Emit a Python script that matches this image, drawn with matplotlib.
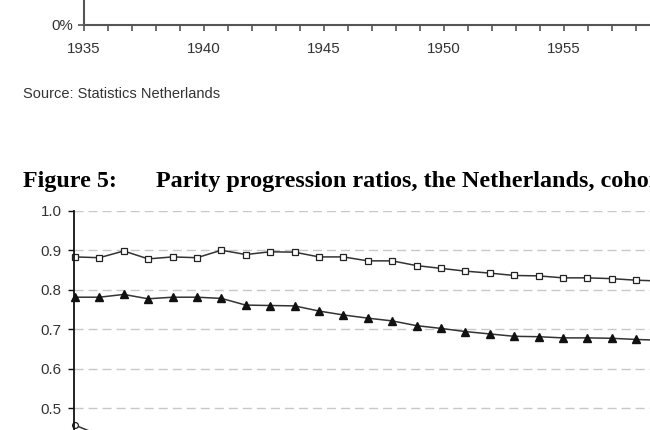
import matplotlib
matplotlib.use("Agg")
import matplotlib.pyplot as plt
from matplotlib.ticker import MultipleLocator, FixedLocator, FormatStrFormatter

# Figure 5 data: parity progression ratios by birth cohort
cohorts = list(range(1935, 1960))
ppr_squares = [0.883, 0.881, 0.898, 0.878, 0.883, 0.881, 0.900, 0.889, 0.896,
               0.895, 0.883, 0.883, 0.873, 0.873, 0.861, 0.854, 0.847, 0.842,
               0.836, 0.835, 0.830, 0.830, 0.828, 0.824, 0.822]
ppr_triangles = [0.781, 0.781, 0.788, 0.777, 0.781, 0.781, 0.778, 0.761, 0.760,
                 0.759, 0.746, 0.736, 0.728, 0.721, 0.709, 0.702, 0.694, 0.688,
                 0.682, 0.681, 0.678, 0.678, 0.677, 0.674, 0.672]
circle_cohorts = [1935, 1936]
ppr_circles = [0.457, 0.432]
y_ticks = [0.5, 0.6, 0.7, 0.8, 0.9, 1.0]  # the lower ones fall below the crop

# previous figure (only its bottom axis is visible in the crop)
prev_year_ticks = [1935, 1940, 1945, 1950, 1955]
prev_y_ticks = [0]
prev_y_labels = ["0%"]

source_text = "Source: Statistics Netherlands"
fig_label = "Figure 5:"
fig_title = "Parity progression ratios, the Netherlands, cohorts"

W, H = 650, 430
plt.rcParams["lines.scale_dashes"] = False
SANS = ["Liberation Sans", "DejaVu Sans"]
SERIF = ["Liberation Serif", "DejaVu Serif"]

fig = plt.figure(figsize=(W / 100, H / 100), dpi=100)


def px_axes(left, top, right, bottom):
    # pixel box (from top-left) -> figure fraction axes
    return fig.add_axes([left / W, 1 - bottom / H, (right - left) / W, (bottom - top) / H])


# ---- tail of the previous chart ----
ax0 = px_axes(84, -300, 84 + 27 * 24.0, 25)
ax0.set_xlim(1935, 1962)
ax0.set_ylim(0, 1)
for s in ("top", "right"):
    ax0.spines[s].set_visible(False)
for s in ("left", "bottom"):
    ax0.spines[s].set_color("#555555")
    ax0.spines[s].set_linewidth(1.5)
ax0.xaxis.set_major_locator(FixedLocator(prev_year_ticks))
ax0.xaxis.set_minor_locator(MultipleLocator(1))
ax0.set_xticklabels([str(y) for y in prev_year_ticks], family=SANS, fontsize=10.8, color="#333333")
ax0.tick_params(axis="x", which="both", direction="out", length=4, width=1.2,
                color="#555555", pad=8)
ax0.set_yticks(prev_y_ticks)
ax0.set_yticklabels(prev_y_labels, family=SANS, fontsize=10.8, color="#333333")
ax0.tick_params(axis="y", direction="out", length=4, width=1.2, color="#555555", pad=4)

fig.text(23 / W, 1 - 98 / H, source_text, family=SANS, fontsize=10.5,
         color="#333333", ha="left", va="baseline")

# ---- Figure 5 title (cut off by the crop on the right, as in the scan) ----
fig.text(23 / W, 1 - 187 / H, fig_label, family=SERIF, fontsize=17.3,
         fontweight="bold", ha="left", va="baseline")
fig.text(156 / W, 1 - 187 / H, fig_title, family=SERIF, fontsize=17.4,
         fontweight="bold", ha="left", va="baseline")

# ---- Figure 5 chart (cut off at the bottom and right) ----
ax = px_axes(74, 210.7, 74 + 26.04 * 24.4, 210.7 + 395)
ax.set_xlim(1934.96, 1961)
ax.set_ylim(0.0, 1.0)
for s in ("top", "right"):
    ax.spines[s].set_visible(False)
ax.spines["left"].set_color("#111111")
ax.spines["left"].set_linewidth(1.3)
ax.spines["bottom"].set_visible(False)
ax.set_xticks([])
ax.yaxis.set_major_locator(FixedLocator(y_ticks))
ax.yaxis.set_major_formatter(FormatStrFormatter("%.1f"))
ax.tick_params(axis="y", direction="out", length=4, width=1.0, color="#111111",
               pad=5, labelsize=10.8, labelcolor="#333333")
for lab in ax.get_yticklabels():
    lab.set_family(SANS)
ax.set_axisbelow(True)
ax.yaxis.grid(True, color="#c8c8c8", linewidth=1.0, linestyle=(0, (6.5, 3.6)))

line_kw = dict(color="#333333", linewidth=1.1, clip_on=False)
ax.plot(cohorts, ppr_squares, marker="s", markersize=4, markerfacecolor="white",
        markeredgecolor="#222222", markeredgewidth=0.9, **line_kw)
ax.plot(cohorts, ppr_triangles, marker="^", markersize=5.5, markerfacecolor="#111111",
        markeredgecolor="#111111", **line_kw)
ax.plot(circle_cohorts, ppr_circles, marker="o", markersize=4.2, markerfacecolor="white",
        markeredgecolor="#222222", markeredgewidth=0.9, **line_kw)

fig.savefig("out.png", dpi=100)
